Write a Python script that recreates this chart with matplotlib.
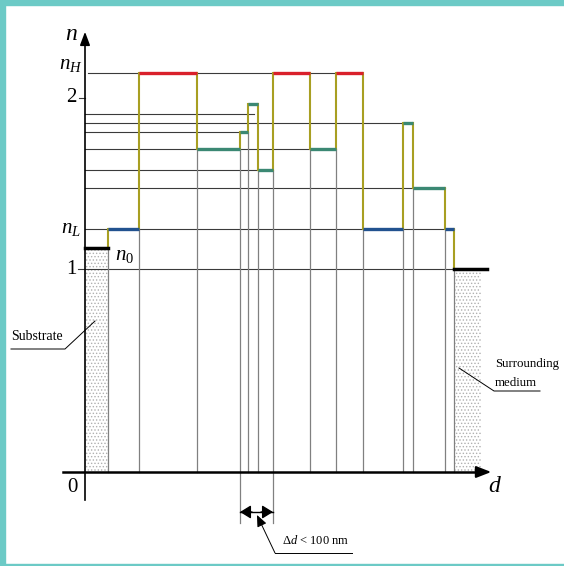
import numpy as np
import matplotlib.pyplot as plt
from matplotlib.patches import Rectangle

# layer stack: boundaries along d (arbitrary units) and refractive index of each layer
n_sub = 1.123
n_L = 1.234
n_H = 2.146
n_medium = 1.0
boundaries = [23, 54, 112, 155, 163, 173, 188, 225, 251, 278, 318, 328, 360, 369]
layer_n = [1.234, 2.146, 1.702, 1.801, 1.965, 1.579, 2.146, 1.700, 2.146, 1.234, 1.854, 1.474, 1.234]
layer_kind = ['L', 'H', 'M', 'M', 'M', 'M', 'H', 'M', 'H', 'L', 'M', 'M', 'L']
medium_end = 396
medium_line_end = 402
# guide lines from the n axis: level, end of line
guide_n = [2.146, 1.906, 1.854, 1.801, 1.702, 1.579, 1.474, 1.234, 1.0]
guide_end = [251, 169, 318, 155, 226, 173, 360, 369, 369]
y_ticks = [n_H, 2.0, n_L, 1.0]
y_ticklabels = ['$n_H$', '2', '$n_L$', '1']

colors = {'H': '#d9202b', 'L': '#22528f', 'M': '#3b8873'}
olive = '#a89f22'
gray = '#808080'

plt.rcParams['font.family'] = ['Liberation Serif', 'DejaVu Serif']
plt.rcParams['mathtext.fontset'] = 'custom'
plt.rcParams['mathtext.it'] = 'Liberation Serif:italic'
plt.rcParams['mathtext.rm'] = 'Liberation Serif'

fig = plt.figure(figsize=(5.64, 5.66), dpi=100)
ax = fig.add_axes([0, 0, 1, 1])
# pixel-like frame: d origin on the axis, n scaled 171 px per unit
ax.set_xlim(-85, 479)
ax.set_ylim(1 - 297 / 171., 1 + 269 / 171.)
ax.axis('off')
y0 = 1 - 203 / 171.   # position of the d axis

# guide lines
for lev, xe in zip(guide_n, guide_end):
    xs = 3 if lev == n_H else 0
    if lev == 1.0:
        xs = -7
    ax.plot([xs, xe], [lev, lev], color='#3a3a3a', lw=0.8, zorder=2)
ax.plot([-6, 0], [2.0, 2.0], color='#3a3a3a', lw=0.8)

# substrate and surrounding medium (dotted)
plt.rcParams['hatch.linewidth'] = 0.6
ax.add_patch(Rectangle((0, y0), boundaries[0], n_sub - y0, facecolor='white',
                       edgecolor='#b0b0b0', hatch='.....', lw=0, zorder=1))
ax.add_patch(Rectangle((boundaries[-1], y0), medium_end - boundaries[-1], n_medium - y0,
                       facecolor='white', edgecolor='#b0b0b0', hatch='.....', lw=0, zorder=1))
ax.plot([0, boundaries[0]], [n_sub, n_sub], color='black', lw=2.5, zorder=4)
ax.plot([boundaries[-1], medium_line_end], [n_medium, n_medium], color='black', lw=2.5, zorder=4)

# layers
all_n = [n_sub] + layer_n + [n_medium]
for i, b in enumerate(boundaries):
    lo = min(all_n[i], all_n[i + 1])
    hi = max(all_n[i], all_n[i + 1])
    ax.plot([b, b], [y0, lo], color=gray, lw=0.9, zorder=2)
    ax.plot([b, b], [lo, hi], color=olive, lw=1.5, zorder=3)
for i, (nv, k) in enumerate(zip(layer_n, layer_kind)):
    ax.plot([boundaries[i], boundaries[i + 1]], [nv, nv], color=colors[k], lw=2.4,
            solid_capstyle='butt', zorder=4)

# axes with arrows
ax.plot([-22, 397], [y0, y0], color='black', lw=1.8, zorder=5)
ax.annotate('', xy=(409, y0), xytext=(395, y0),
            arrowprops=dict(arrowstyle='-|>,head_length=0.9,head_width=0.35', color='black', lw=1.5))
ax.plot([0, 0], [1 - 231 / 171., 1 + 225 / 171.], color='black', lw=1.2, zorder=5)
ax.annotate('', xy=(0, 1 + 240 / 171.), xytext=(0, 1 + 222 / 171.),
            arrowprops=dict(arrowstyle='-|>,head_length=0.8,head_width=0.3', color='black', lw=1.2))

# labels
ax.text(-14, 1 + 234 / 171., '$n$', fontsize=17, ha='center', va='center')
for v, lab in zip(y_ticks, y_ticklabels):
    off = 9 / 171. if v == n_H else 0
    ax.text(-14, v + off, lab, fontsize=15, ha='center', va='center')
ax.text(40, n_sub - 8 / 171., '$n_0$', fontsize=15, ha='center', va='center')
ax.text(-13, 1 - 218 / 171., '0', fontsize=15, ha='center', va='center')
ax.text(410, 1 - 217 / 171., '$d$', fontsize=17, ha='center', va='center')

# substrate label
ax.text(-48, 1 - 67 / 171., 'Substrate', fontsize=10, ha='center', va='center')
ax.plot([-74, -20, 10], [1 - 80 / 171., 1 - 80 / 171., 1 - 52 / 171.], color='black', lw=0.7)

# surrounding medium label
ax.text(410, 1 - 95 / 171., 'Surrounding', fontsize=9.3, ha='left', va='center')
ax.text(410, 1 - 114 / 171., 'medium', fontsize=9.3, ha='left', va='center')
ax.plot([374, 409, 455], [1 - 99 / 171., 1 - 122 / 171., 1 - 122 / 171.], color='black', lw=0.7)

# delta d marker between two thin layers
da, db = boundaries[3], boundaries[6]
ya = 1 - 243 / 171.
ax.plot([da, da], [y0, 1 - 254 / 171.], color=gray, lw=0.9)
ax.plot([db, db], [y0, 1 - 254 / 171.], color=gray, lw=0.9)
ax.plot([da, db], [ya, ya], color='black', lw=1)
head = dict(arrowstyle='-|>,head_length=0.65,head_width=0.4', color='black', lw=1,
            shrinkA=0, shrinkB=0)
ax.annotate('', xy=(da, ya), xytext=(da + 12, ya), arrowprops=head)
ax.annotate('', xy=(db, ya), xytext=(db - 12, ya), arrowprops=head)
ax.annotate('', xy=(172, 1 - 246 / 171.), xytext=(190, 1 - 284 / 171.),
            arrowprops=dict(arrowstyle='-|>,head_length=0.7,head_width=0.3', color='black',
                            lw=0.7, shrinkA=0, shrinkB=0))
ax.plot([190, 267], [1 - 284 / 171.] * 2, color='black', lw=0.7)
ax.text(197, 1 - 272 / 171., r'$\Delta d$ < 100 nm', fontsize=9, ha='left', va='center')

# teal frame
for r in [(0, 0, 5, 566), (0, 561, 564, 5), (0, 0, 564, 2)]:
    fig.patches.append(Rectangle((r[0] / 564., r[1] / 566.), r[2] / 564., r[3] / 566.,
                                 transform=fig.transFigure, color='#6ccac6', zorder=10))

fig.savefig('out.png', dpi=100)
